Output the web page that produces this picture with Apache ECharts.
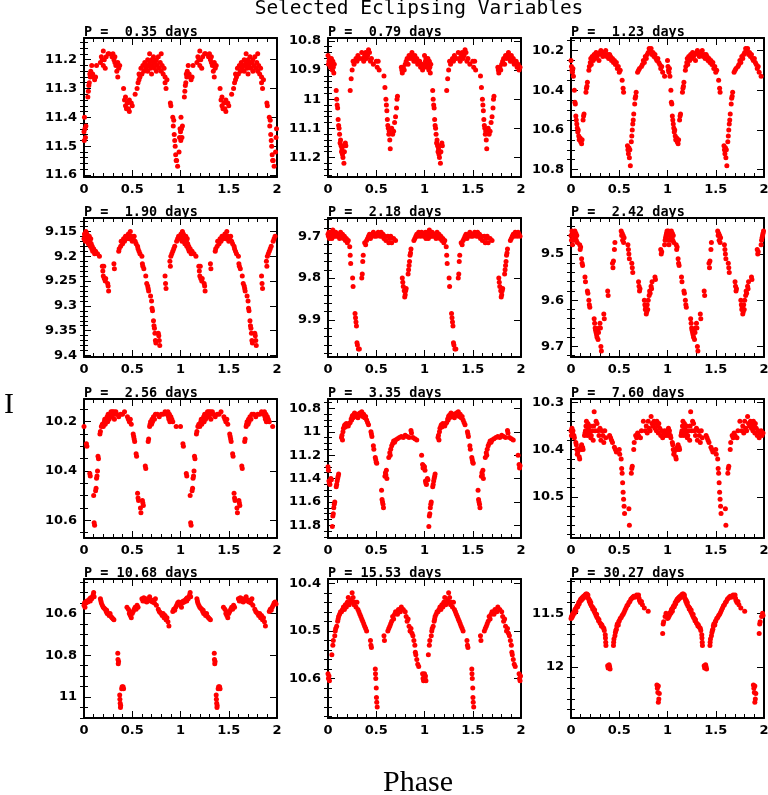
<!DOCTYPE html>
<html><head><meta charset="utf-8">
<script src="https://cdn.jsdelivr.net/npm/echarts@6/dist/echarts.min.js"></script>
<style>html,body{margin:0;padding:0;background:#fff}#c{width:768px;height:795px}</style>
</head><body><div id="c"></div>
<script>
// ---------- DATA (phase 0-1, magnitude I); plotted twice (phase and phase+1) ----------
const periodLabels = ['P =  0.35 days','P =  0.79 days','P =  1.23 days','P =  1.90 days','P =  2.18 days','P =  2.42 days',
                      'P =  2.56 days','P =  3.35 days','P =  7.60 days','P = 10.68 days','P = 15.53 days','P = 30.27 days'];

const lc035 = [[0.0,11.45],[0.003,11.48],[0.005,11.40],[0.01,11.44],[0.015,11.47],[0.02,11.43],
[0.04,11.33],[0.045,11.31],[0.05,11.29],[0.055,11.28],[0.06,11.25],[0.065,11.26],[0.07,11.24],[0.08,11.22],[0.09,11.25],[0.1,11.26],[0.11,11.27],[0.12,11.26],[0.13,11.22],
[0.17,11.21],[0.18,11.19],[0.19,11.20],[0.2,11.22],[0.2,11.17],[0.21,11.20],[0.22,11.23],[0.23,11.19],[0.25,11.18],[0.26,11.18],
[0.29,11.19],[0.3,11.18],[0.31,11.20],[0.32,11.21],[0.32,11.19],[0.33,11.22],[0.34,11.24],[0.35,11.21],[0.36,11.23],[0.35,11.26],[0.37,11.22],
[0.41,11.30],[0.42,11.34],[0.43,11.36],[0.43,11.33],[0.44,11.37],[0.45,11.35],[0.46,11.37],[0.47,11.34],[0.47,11.38],[0.49,11.35],[0.5,11.36],
[0.53,11.32],[0.55,11.30],[0.56,11.28],[0.57,11.27],[0.57,11.25],[0.58,11.26],[0.59,11.23],[0.6,11.25],[0.61,11.22],[0.62,11.24],[0.63,11.21],[0.64,11.23],[0.65,11.22],[0.66,11.20],[0.66,11.24],[0.67,11.22],[0.68,11.18],[0.68,11.21],[0.69,11.23],[0.7,11.20],[0.7,11.25],[0.71,11.22],[0.72,11.19],[0.72,11.21],[0.73,11.23],[0.74,11.21],[0.75,11.24],[0.75,11.20],[0.76,11.22],[0.77,11.19],[0.78,11.23],[0.79,11.21],[0.8,11.24],[0.8,11.18],[0.81,11.22],[0.82,11.25],[0.83,11.23],[0.84,11.26],[0.84,11.28],[0.85,11.30],[0.86,11.27],
[0.895,11.35],[0.9,11.36],[0.92,11.40],[0.925,11.43],[0.93,11.41],[0.935,11.46],[0.94,11.48],[0.945,11.50],[0.95,11.53],[0.955,11.55],[0.96,11.55],[0.97,11.57],[0.985,11.52],[0.99,11.47],[0.995,11.44]];

const lc079 = [[0.0,10.85],[0.005,10.88],[0.01,10.87],[0.015,10.86],[0.02,10.88],[0.025,10.89],[0.03,10.87],[0.035,10.86],[0.04,10.88],[0.045,10.90],[0.05,10.87],[0.055,10.89],[0.06,10.91],[0.065,10.88],
[0.085,10.97],[0.09,11.00],[0.095,11.02],[0.1,11.03],[0.105,11.07],[0.11,11.09],[0.115,11.10],[0.12,11.12],[0.125,11.15],[0.13,11.14],[0.135,11.16],[0.14,11.18],[0.145,11.17],[0.15,11.19],[0.155,11.20],[0.16,11.16],[0.165,11.22],[0.17,11.18],[0.18,11.15],[0.185,11.16],
[0.23,10.97],[0.24,10.93],[0.25,10.90],[0.26,10.87],[0.27,10.88],[0.29,10.86],[0.3,10.87],[0.31,10.85],[0.33,10.86],[0.35,10.84],[0.36,10.86],[0.37,10.87],[0.38,10.85],[0.39,10.84],[0.4,10.86],[0.41,10.85],[0.42,10.83],[0.43,10.84],[0.44,10.87],[0.45,10.86],[0.47,10.88],[0.5,10.87],[0.51,10.89],[0.52,10.87],[0.53,10.90],
[0.58,10.92],[0.59,10.96],[0.6,11.00],[0.605,11.02],[0.61,11.04],[0.615,11.07],[0.62,11.09],[0.625,11.10],[0.63,11.12],[0.635,11.11],[0.64,11.14],[0.645,11.17],[0.66,11.10],[0.67,11.12],[0.68,11.11],[0.69,11.08],[0.7,11.06],[0.71,11.03],[0.715,11.00],[0.72,10.99],
[0.76,10.89],[0.765,10.90],[0.77,10.91],[0.78,10.89],[0.79,10.90],[0.8,10.88],[0.81,10.87],[0.82,10.86],[0.83,10.88],[0.84,10.85],[0.85,10.86],[0.86,10.85],[0.87,10.84],[0.88,10.86],[0.89,10.87],[0.9,10.85],[0.91,10.87],[0.92,10.86],[0.93,10.88],[0.95,10.87],[0.96,10.89],[0.97,10.88],[0.98,10.90],[0.99,10.89]];

const lc123 = [[0.0,10.25],[0.005,10.28],[0.01,10.30],[0.015,10.31],[0.02,10.29],[0.025,10.33],
[0.035,10.40],[0.04,10.46],[0.045,10.47],[0.05,10.53],[0.055,10.55],[0.06,10.57],[0.065,10.59],[0.07,10.61],[0.075,10.60],[0.08,10.63],[0.085,10.65],[0.095,10.64],[0.1,10.66],[0.11,10.67],[0.115,10.65],[0.125,10.55],[0.13,10.53],[0.135,10.52],
[0.155,10.41],[0.16,10.39],[0.165,10.38],[0.17,10.36],
[0.185,10.30],[0.19,10.28],[0.2,10.26],[0.205,10.24],[0.21,10.27],[0.22,10.23],[0.23,10.25],[0.24,10.22],[0.25,10.24],[0.26,10.21],[0.27,10.23],[0.28,10.22],[0.29,10.25],[0.3,10.21],[0.31,10.20],[0.32,10.22],[0.33,10.23],[0.34,10.21],[0.35,10.22],[0.36,10.20],[0.37,10.23],[0.38,10.22],[0.39,10.24],[0.4,10.22],[0.41,10.23],[0.42,10.25],[0.43,10.24],[0.44,10.26],[0.45,10.25],[0.46,10.27],[0.47,10.26],[0.48,10.29],[0.49,10.28],[0.5,10.31],[0.51,10.30],
[0.53,10.35],[0.54,10.39],[0.545,10.41],
[0.585,10.68],[0.59,10.70],[0.595,10.72],[0.6,10.69],[0.605,10.74],[0.61,10.70],[0.615,10.78],[0.625,10.66],[0.63,10.63],[0.635,10.60],[0.64,10.57],[0.645,10.55],[0.65,10.52],[0.66,10.47],[0.665,10.44],[0.67,10.43],[0.675,10.41],
[0.69,10.31],[0.7,10.30],[0.71,10.29],[0.73,10.28],[0.74,10.27],[0.75,10.25],[0.76,10.26],[0.77,10.23],[0.78,10.24],[0.79,10.22],[0.8,10.21],[0.81,10.19],[0.82,10.20],[0.83,10.19],[0.84,10.22],[0.85,10.21],[0.86,10.23],[0.87,10.22],[0.88,10.24],[0.89,10.25],[0.9,10.24],[0.91,10.26],[0.92,10.27],[0.93,10.29],[0.94,10.28],[0.95,10.31],[0.97,10.33]];

const lc190 = [[0.0,9.165],[0.005,9.155],[0.01,9.16],[0.015,9.17],[0.02,9.15],[0.025,9.165],[0.03,9.155],[0.035,9.17],[0.04,9.16],[0.045,9.175],[0.05,9.165],[0.055,9.16],[0.06,9.17],[0.065,9.18],[0.07,9.165],[0.075,9.175],[0.08,9.185],[0.085,9.18],[0.09,9.19],[0.1,9.185],[0.11,9.195],[0.12,9.19],[0.14,9.195],[0.16,9.2],
[0.19,9.22],[0.195,9.23],[0.2,9.24],[0.205,9.22],[0.21,9.245],[0.22,9.25],[0.225,9.245],[0.245,9.255],[0.25,9.26],[0.255,9.27],
[0.31,9.215],[0.315,9.225],
[0.36,9.19],[0.365,9.185],[0.38,9.18],[0.385,9.17],[0.4,9.175],[0.41,9.165],[0.42,9.17],[0.43,9.16],[0.44,9.165],[0.45,9.16],[0.46,9.155],[0.47,9.165],[0.48,9.15],[0.49,9.16],[0.5,9.17],[0.51,9.165],[0.52,9.16],[0.53,9.17],[0.54,9.175],
[0.555,9.18],[0.56,9.185],[0.57,9.19],[0.58,9.195],[0.6,9.2],[0.605,9.215],[0.61,9.22],[0.62,9.225],
[0.64,9.24],[0.65,9.255],[0.66,9.26],[0.665,9.265],[0.67,9.27],
[0.69,9.28],[0.7,9.29],[0.705,9.305],[0.71,9.31],
[0.72,9.33],[0.725,9.34],[0.73,9.345],[0.735,9.355],[0.74,9.37],[0.745,9.375],
[0.77,9.355],[0.775,9.36],[0.78,9.37],[0.785,9.38],
[0.84,9.24],[0.845,9.255],[0.85,9.265],
[0.89,9.21],[0.895,9.22],[0.9,9.2],[0.91,9.195],[0.92,9.19],[0.93,9.185],[0.94,9.18],[0.96,9.17],[0.97,9.165],[0.98,9.16]];

const lc218 = [[0.0,9.695],[0.005,9.7],[0.01,9.69],[0.015,9.705],[0.02,9.7],[0.025,9.695],[0.03,9.7],[0.035,9.69],[0.04,9.705],[0.045,9.695],[0.05,9.685],[0.055,9.7],[0.06,9.695],[0.07,9.7],[0.08,9.69],[0.09,9.7],[0.1,9.695],[0.11,9.7],[0.12,9.705],[0.13,9.69],[0.14,9.7],[0.15,9.695],[0.16,9.705],[0.17,9.7],[0.18,9.71],[0.19,9.705],[0.2,9.715],[0.21,9.71],
[0.225,9.725],[0.23,9.745],[0.235,9.765],[0.255,9.8],[0.26,9.82],[0.28,9.885],[0.285,9.895],[0.29,9.905],[0.295,9.915],[0.3,9.955],[0.305,9.96],[0.315,9.97],[0.325,9.97],
[0.35,9.8],[0.355,9.79],[0.36,9.76],[0.365,9.745],
[0.38,9.715],[0.39,9.72],[0.4,9.71],[0.41,9.705],[0.42,9.7],[0.43,9.695],[0.44,9.705],[0.45,9.7],[0.46,9.695],[0.47,9.69],[0.48,9.7],[0.49,9.695],[0.5,9.7],[0.52,9.69],[0.53,9.695],[0.54,9.7],[0.55,9.69],[0.56,9.7],[0.57,9.695],[0.58,9.705],[0.59,9.7],[0.6,9.71],[0.62,9.7],[0.63,9.715],[0.64,9.705],[0.65,9.7],[0.66,9.715],[0.68,9.705],[0.7,9.71],
[0.77,9.8],[0.775,9.81],[0.78,9.82],[0.79,9.83],[0.795,9.845],[0.8,9.84],[0.805,9.83],[0.81,9.825],
[0.83,9.79],[0.835,9.78],[0.84,9.77],[0.845,9.76],[0.85,9.745],[0.855,9.74],[0.86,9.73],
[0.89,9.71],[0.9,9.705],[0.91,9.7],[0.92,9.695],[0.93,9.7],[0.94,9.69],[0.95,9.695],[0.96,9.7],[0.97,9.69],[0.98,9.695],[0.99,9.7]];

const lc242 = [[0.0,9.46],[0.005,9.47],[0.01,9.45],[0.015,9.48],[0.02,9.46],[0.025,9.455],[0.03,9.47],[0.035,9.46],[0.04,9.45],[0.045,9.465],[0.05,9.455],[0.055,9.47],[0.06,9.46],[0.065,9.475],
[0.09,9.48],[0.095,9.49],[0.1,9.485],[0.11,9.51],[0.115,9.52],[0.12,9.525],[0.145,9.55],[0.15,9.56],[0.17,9.58],[0.175,9.585],[0.185,9.6],[0.19,9.61],[0.195,9.615],
[0.24,9.64],[0.245,9.65],[0.25,9.66],[0.255,9.665],[0.26,9.67],[0.265,9.675],[0.27,9.68],[0.275,9.665],[0.28,9.685],[0.285,9.67],[0.29,9.66],[0.3,9.65],[0.305,9.66],[0.31,9.7],[0.315,9.71],
[0.34,9.63],[0.345,9.64],[0.38,9.58],[0.385,9.59],
[0.43,9.52],[0.435,9.53],[0.44,9.515],[0.45,9.49],[0.455,9.475],
[0.52,9.45],[0.525,9.46],[0.53,9.455],[0.535,9.47],[0.54,9.46],[0.545,9.475],[0.55,9.465],
[0.59,9.48],[0.595,9.49],[0.6,9.5],[0.605,9.51],[0.63,9.52],[0.635,9.53],[0.64,9.54],
[0.7,9.56],[0.705,9.57],[0.71,9.58],[0.715,9.575],
[0.76,9.6],[0.765,9.61],[0.77,9.62],[0.775,9.615],[0.78,9.63],[0.785,9.625],[0.79,9.61],[0.795,9.62],
[0.8,9.6],[0.81,9.59],[0.815,9.58],[0.82,9.585],[0.83,9.57],[0.835,9.575],[0.84,9.56],
[0.87,9.55],[0.875,9.555],[0.93,9.49],[0.935,9.5],[0.94,9.495],
[0.97,9.48],[0.975,9.47],[0.98,9.465],[0.985,9.46],[0.99,9.455],[0.995,9.45]];

const lc256 = [[0.0,10.22],[0.025,10.29],[0.03,10.3],[0.06,10.41],[0.065,10.42],
[0.1,10.5],[0.105,10.61],[0.11,10.62],[0.12,10.48],[0.125,10.47],[0.13,10.43],[0.135,10.42],[0.14,10.4],[0.145,10.34],[0.15,10.35],
[0.165,10.25],[0.17,10.24],[0.18,10.22],
[0.19,10.21],[0.2,10.22],[0.21,10.2],[0.215,10.19],[0.22,10.21],[0.23,10.19],[0.24,10.18],[0.245,10.2],[0.25,10.17],[0.26,10.19],[0.265,10.18],[0.27,10.17],[0.275,10.18],[0.28,10.16],[0.285,10.17],[0.29,10.18],[0.295,10.16],[0.3,10.17],[0.31,10.16],[0.315,10.19],[0.32,10.17],[0.33,10.16],[0.34,10.17],[0.36,10.18],[0.38,10.17],[0.4,10.17],[0.42,10.16],
[0.45,10.18],[0.46,10.19],[0.47,10.2],[0.48,10.19],[0.49,10.21],
[0.51,10.25],[0.515,10.26],[0.52,10.27],[0.525,10.28],[0.54,10.33],[0.545,10.34],
[0.555,10.49],[0.56,10.51],[0.565,10.52],[0.585,10.55],[0.59,10.57],[0.605,10.52],[0.61,10.53],[0.615,10.54],
[0.635,10.38],[0.64,10.39],[0.665,10.28],[0.67,10.27],
[0.68,10.22],[0.685,10.21],[0.69,10.2],[0.7,10.21],[0.705,10.19],[0.71,10.2],[0.72,10.18],[0.73,10.19],[0.74,10.17],[0.76,10.17],[0.78,10.18],[0.8,10.17],[0.82,10.17],[0.84,10.16],[0.86,10.17],[0.87,10.16],[0.875,10.18],[0.88,10.19],[0.885,10.17],[0.89,10.2],[0.9,10.18],[0.91,10.19],[0.92,10.2],
[0.955,10.22]];

const lc335 = [[0.0,11.3],[0.005,11.33],[0.01,11.42],[0.015,11.44],[0.02,11.45],[0.03,11.4],[0.035,11.41],
[0.045,11.81],[0.05,11.72],[0.055,11.7],[0.06,11.65],[0.065,11.62],[0.07,11.6],
[0.085,11.47],[0.09,11.45],[0.095,11.42],[0.1,11.4],[0.105,11.38],[0.11,11.36],
[0.14,11.05],[0.145,11.03],[0.15,11.07],[0.155,11.0],
[0.16,10.97],[0.17,10.95],[0.175,10.94],[0.18,10.96],[0.19,10.93],[0.2,10.94],[0.21,10.95],[0.22,10.93],[0.23,10.92],[0.24,10.89],[0.245,10.9],[0.25,10.87],[0.255,10.86],[0.26,10.88],[0.27,10.85],[0.275,10.84],[0.28,10.87],[0.29,10.86],[0.3,10.85],[0.31,10.88],[0.32,10.86],[0.33,10.84],[0.34,10.85],[0.35,10.83],[0.355,10.86],[0.36,10.87],[0.37,10.85],[0.38,10.88],[0.39,10.87],
[0.4,10.9],[0.41,10.92],[0.42,10.94],[0.445,11.0],[0.45,11.02],[0.455,11.04],[0.47,11.12],[0.475,11.15],
[0.49,11.22],[0.495,11.24],[0.5,11.26],[0.505,11.27],
[0.555,11.5],[0.56,11.58],[0.565,11.6],[0.57,11.62],[0.575,11.65],
[0.59,11.38],[0.595,11.35],[0.6,11.37],[0.605,11.33],[0.61,11.4],
[0.63,11.22],[0.64,11.18],[0.645,11.2],[0.65,11.15],[0.66,11.12],[0.67,11.1],[0.68,11.08],[0.69,11.09],[0.7,11.07],[0.72,11.06],[0.74,11.05],[0.76,11.04],[0.78,11.05],[0.8,11.03],[0.82,11.04],[0.84,11.05],[0.86,10.99],[0.865,11.01],[0.88,11.05],[0.9,11.06],[0.92,11.07],
[0.97,11.2],[0.98,11.28],[0.985,11.31],[0.99,11.29]];

const lc760 = [[0.0,10.36],[0.005,10.37],[0.01,10.355],[0.015,10.365],[0.02,10.36],[0.03,10.37],[0.035,10.375],
[0.05,10.385],[0.055,10.39],[0.06,10.4],[0.065,10.41],[0.07,10.405],[0.08,10.4],[0.085,10.415],[0.09,10.42],[0.1,10.395],[0.105,10.4],[0.11,10.39],[0.12,10.395],[0.125,10.4],
[0.14,10.37],[0.145,10.365],[0.15,10.36],[0.155,10.35],[0.16,10.34],[0.165,10.36],[0.17,10.37],[0.175,10.345],[0.18,10.355],[0.185,10.36],[0.19,10.365],[0.2,10.35],[0.205,10.375],[0.21,10.37],[0.22,10.36],[0.23,10.38],[0.235,10.35],[0.24,10.32],[0.25,10.36],[0.26,10.34],[0.27,10.345],[0.28,10.36],[0.29,10.37],[0.3,10.355],[0.31,10.38],[0.32,10.36],[0.33,10.37],[0.34,10.385],[0.35,10.36],[0.36,10.375],
[0.4,10.37],[0.41,10.375],[0.42,10.38],[0.43,10.385],[0.45,10.395],[0.46,10.4],[0.47,10.405],
[0.5,10.4],[0.505,10.41],[0.52,10.42],[0.525,10.44],[0.53,10.45],[0.535,10.47],[0.54,10.49],[0.545,10.505],[0.55,10.52],[0.555,10.535],[0.6,10.525],[0.605,10.56],
[0.625,10.45],[0.63,10.44],[0.635,10.435],[0.65,10.4],[0.655,10.385],
[0.67,10.37],[0.68,10.375],[0.69,10.365],[0.7,10.37],[0.72,10.375],[0.73,10.36],[0.75,10.34],[0.77,10.36],[0.78,10.35],[0.79,10.365],[0.8,10.34],[0.81,10.355],[0.82,10.36],[0.83,10.33],[0.84,10.345],[0.85,10.35],[0.86,10.34],[0.87,10.355],[0.88,10.345],[0.885,10.36],[0.89,10.34],[0.9,10.35],[0.905,10.365],[0.91,10.345],[0.92,10.355],[0.93,10.37],[0.94,10.36],[0.95,10.375],[0.96,10.365],[0.97,10.36],[0.98,10.37],[0.99,10.365]];

const lc1068 = [[0.0,10.56],[0.005,10.55],[0.01,10.57],[0.015,10.545],[0.02,10.55],[0.03,10.54],[0.04,10.545],[0.05,10.535],[0.06,10.53],[0.065,10.54],[0.07,10.525],[0.08,10.53],[0.09,10.52],[0.095,10.51],[0.1,10.5],[0.105,10.52],
[0.17,10.53],[0.175,10.54],[0.18,10.55],[0.19,10.56],[0.2,10.57],[0.21,10.575],[0.22,10.58],[0.23,10.59],[0.235,10.585],[0.24,10.6],[0.25,10.6],[0.26,10.61],[0.27,10.6],[0.28,10.615],[0.29,10.62],[0.3,10.625],[0.31,10.63],
[0.35,10.79],[0.352,10.82],[0.355,10.84],[0.358,10.83],
[0.37,10.99],[0.372,11.01],[0.375,11.03],[0.378,11.05],[0.38,11.04],[0.39,10.96],[0.395,10.95],[0.405,10.95],[0.41,10.96],
[0.445,10.57],[0.46,10.58],[0.47,10.6],[0.475,10.59],[0.48,10.61],[0.49,10.62],[0.5,10.6],[0.51,10.59],[0.52,10.58],[0.53,10.57],[0.54,10.58],[0.55,10.56],[0.56,10.57],
[0.6,10.53],[0.61,10.54],[0.62,10.525],[0.63,10.54],[0.64,10.53],[0.65,10.545],[0.66,10.535],[0.67,10.53],[0.68,10.52],[0.69,10.54],[0.7,10.535],[0.71,10.545],[0.72,10.54],[0.73,10.55],[0.74,10.53],[0.75,10.56],
[0.77,10.58],[0.78,10.59],[0.79,10.595],[0.8,10.6],[0.81,10.61],[0.82,10.6],[0.83,10.62],[0.84,10.61],[0.85,10.63],[0.86,10.62],[0.87,10.64],[0.88,10.66],
[0.92,10.59],[0.93,10.58],[0.94,10.585],[0.95,10.57],[0.96,10.56],[0.97,10.55],[0.98,10.545],[0.99,10.555]];

const lc1553 = [[0.0,10.59],[0.005,10.6],[0.01,10.595],[0.015,10.605],
[0.04,10.55],[0.05,10.53],[0.055,10.52],
[0.07,10.51],[0.075,10.5],[0.08,10.495],[0.09,10.49],[0.1,10.48],[0.105,10.475],[0.11,10.47],[0.12,10.465],[0.13,10.46],[0.14,10.46],[0.15,10.455],[0.16,10.45],[0.17,10.455],[0.18,10.445],[0.19,10.45],[0.2,10.44],[0.21,10.43],[0.22,10.445],[0.23,10.44],[0.24,10.435],[0.25,10.42],[0.255,10.44],[0.26,10.43],[0.27,10.445],[0.28,10.44],[0.29,10.45],[0.3,10.44],[0.31,10.455],[0.32,10.46],[0.33,10.465],[0.34,10.47],[0.35,10.475],[0.36,10.48],[0.37,10.485],[0.38,10.49],[0.39,10.495],[0.4,10.5],
[0.44,10.52],[0.445,10.53],[0.45,10.535],
[0.49,10.58],[0.492,10.59],[0.495,10.6],[0.5,10.62],[0.502,10.64],[0.505,10.65],[0.51,10.66],
[0.58,10.51],[0.585,10.52],
[0.62,10.5],[0.63,10.495],[0.64,10.49],[0.65,10.485],[0.66,10.48],[0.67,10.47],[0.68,10.475],[0.69,10.465],[0.7,10.46],[0.72,10.465],[0.73,10.455],[0.75,10.46],[0.76,10.45],[0.78,10.455],[0.8,10.46],[0.81,10.47],[0.82,10.48],[0.83,10.475],[0.84,10.49],[0.85,10.5],[0.86,10.495],[0.87,10.505],[0.88,10.51],[0.89,10.52],[0.9,10.53],[0.905,10.545],[0.91,10.55],[0.92,10.56],[0.93,10.57],[0.94,10.575],
[0.98,10.59],[0.985,10.6],[0.99,10.605],[0.995,10.595]];

const lc3027 = [[0.0,11.55],[0.005,11.53],[0.01,11.54],[0.015,11.51],[0.02,11.52],[0.025,11.5],[0.03,11.49],[0.035,11.5],[0.04,11.47],[0.045,11.46],[0.05,11.48],[0.055,11.45],[0.06,11.44],[0.065,11.43],[0.07,11.44],[0.075,11.42],[0.08,11.4],[0.085,11.41],[0.09,11.39],[0.095,11.38],[0.1,11.37],[0.105,11.38],[0.11,11.36],[0.115,11.37],[0.12,11.35],[0.125,11.36],[0.13,11.34],[0.14,11.35],[0.145,11.33],[0.15,11.34],[0.155,11.32],[0.16,11.33],[0.165,11.32],[0.17,11.34],[0.175,11.33],
[0.18,11.36],[0.185,11.37],[0.19,11.39],[0.195,11.38],[0.2,11.41],[0.205,11.4],[0.21,11.43],[0.22,11.44],[0.225,11.46],[0.23,11.45],[0.24,11.48],[0.245,11.47],[0.25,11.5],[0.26,11.52],[0.265,11.51],[0.27,11.54],[0.28,11.55],[0.285,11.57],[0.29,11.56],[0.3,11.59],[0.31,11.6],[0.315,11.62],[0.32,11.61],[0.33,11.63],[0.34,11.64],[0.345,11.66],
[0.355,11.7],[0.357,11.73],[0.36,11.77],[0.362,11.8],
[0.38,11.99],[0.385,12.01],[0.395,11.98],[0.4,12.0],[0.405,12.02],
[0.44,11.8],[0.442,11.77],[0.445,11.74],
[0.455,11.71],[0.46,11.68],[0.465,11.66],[0.47,11.65],[0.475,11.62],[0.48,11.6],[0.49,11.61],[0.495,11.58],[0.5,11.57],[0.51,11.55],[0.52,11.54],[0.53,11.52],[0.54,11.51],[0.55,11.49],[0.56,11.47],[0.57,11.45],[0.58,11.43],[0.59,11.42],[0.6,11.4],[0.61,11.39],[0.62,11.37],[0.63,11.36],[0.64,11.35],[0.65,11.34],[0.66,11.35],[0.67,11.34],[0.68,11.33],[0.69,11.34],[0.7,11.33],[0.705,11.36],[0.71,11.38],[0.72,11.4],[0.73,11.39],[0.74,11.42],[0.76,11.45],[0.8,11.48],
[0.89,12.17],[0.895,12.2],[0.9,12.24],[0.905,12.18],[0.91,12.3],[0.905,12.33],[0.915,12.25],
[0.95,11.69],[0.955,11.6],[0.96,11.58],
[0.975,11.53],[0.985,11.5],[0.99,11.52]];

const curves = [lc035, lc079, lc123, lc190, lc218, lc242, lc256, lc335, lc760, lc1068, lc1553, lc3027];

// y-axis ranges (magnitude, inverted), major tick labels and minor tick steps
const yRanges = [[11.125,11.607],[10.79,11.267],[10.137,10.837],[9.123,9.403],[9.656,9.989],[9.422,9.723],
                 [10.108,10.672],[10.72,11.908],[10.293,10.587],[10.435,11.1],[10.391,10.683],[11.18,12.478]];
const yMajorTicks = [[11.2,11.3,11.4,11.5,11.6],[10.8,10.9,11,11.1,11.2],[10.2,10.4,10.6,10.8],[9.15,9.2,9.25,9.3,9.35,9.4],
                     [9.7,9.8,9.9],[9.5,9.6,9.7],[10.2,10.4,10.6],[10.8,11,11.2,11.4,11.6,11.8],[10.3,10.4,10.5],
                     [10.6,10.8,11],[10.4,10.5,10.6],[11.5,12]];
const yMinorSteps = [0.02,0.02,0.05,0.01,0.02,0.02,0.05,0.05,0.02,0.05,0.02,0.1];
const xTickLabels = [0, 0.5, 1, 1.5, 2];

// ---------- LAYOUT ----------
const colLeft = [84, 328, 571];
const rowTop = [38, 218, 399, 579];
const W = 193, H = 139;

function minorValues(range, step, majors) {
  const out = [];
  for (let k = Math.ceil(range[0] / step - 1e-9); k * step <= range[1] + 1e-9; k++) {
    const v = +(k * step).toFixed(6);
    if (!majors.some(m => Math.abs(m - v) < 1e-9)) out.push(v);
  }
  return out;
}

const grid = [], xAxis = [], yAxis = [], series = [], graphic = [];
const lineStyle = { color: '#000', width: 2 };
const tickStyle = { color: '#000', width: 1 };
const labStyle = { color: '#000', fontFamily: 'DejaVu Sans', fontWeight: 'bold', fontSize: 13 };

curves.forEach((curve, i) => {
  const r = Math.floor(i / 3), c = i % 3;
  grid.push({ left: colLeft[c], top: rowTop[r], width: W, height: H, outerBoundsMode: 'none', containLabel: false });
  const xBase = { gridIndex: i, type: 'value', min: 0, max: 2, interval: 0.5, splitLine: { show: false },
    axisLine: { show: true, onZero: false, lineStyle },
    axisTick: { show: true, inside: true, length: 7, lineStyle: tickStyle },
    minorTick: { show: true, splitNumber: 5, length: 4, lineStyle: tickStyle } };
  xAxis.push(Object.assign({}, xBase, { position: 'bottom',
    axisLabel: Object.assign({ show: true, margin: 6, customValues: xTickLabels, formatter: v => String(v) }, labStyle) }));
  xAxis.push(Object.assign({}, xBase, { position: 'top', axisLabel: { show: false } }));

  const rng = yRanges[i], majors = yMajorTicks[i];
  const minors = minorValues(rng, yMinorSteps[i], majors);
  const yBase = { gridIndex: i, type: 'value', inverse: true, min: rng[0], max: rng[1], splitLine: { show: false } };
  ['left', 'right'].forEach(pos => {
    yAxis.push(Object.assign({}, yBase, { position: pos,
      axisLine: { show: true, onZero: false, lineStyle },
      axisTick: { show: true, inside: true, length: 7, customValues: majors, lineStyle: tickStyle },
      axisLabel: pos === 'left'
        ? Object.assign({ show: true, margin: 7, customValues: majors, formatter: v => String(v) }, labStyle)
        : { show: false } }));
    yAxis.push(Object.assign({}, yBase, { position: pos,
      axisLine: { show: false },
      axisTick: { show: true, inside: true, length: 4, customValues: minors, lineStyle: tickStyle },
      axisLabel: { show: false } }));
  });

  const pts = curve.map(p => [p[0], p[1]]).concat(curve.map(p => [p[0] + 1, p[1]]));
  series.push({ type: 'scatter', xAxisIndex: 2 * i, yAxisIndex: 4 * i, data: pts,
    symbol: 'circle', symbolSize: 5, itemStyle: { color: '#ff0000', opacity: 1 }, silent: true });

  graphic.push({ type: 'text', x: colLeft[c], y: rowTop[r] + 1, silent: true,
    style: { text: periodLabels[i], fill: '#000', font: 'bold 13.5px "DejaVu Sans Mono"', textAlign: 'left', textVerticalAlign: 'bottom' } });
});

graphic.push({ type: 'text', x: 419, y: 9, silent: true,
  style: { text: 'Selected Eclipsing Variables', fill: '#000', font: '19.5px "DejaVu Sans Mono"', textAlign: 'center', textVerticalAlign: 'middle' } });
graphic.push({ type: 'text', x: 418, y: 783, silent: true,
  style: { text: 'Phase', fill: '#000', font: '30px "Liberation Serif"', textAlign: 'center', textVerticalAlign: 'middle' } });
graphic.push({ type: 'text', x: 9, y: 405, silent: true,
  style: { text: 'I', fill: '#000', font: '30px "Liberation Serif"', textAlign: 'center', textVerticalAlign: 'middle' } });

const chart = echarts.init(document.getElementById('c'), null, { renderer: 'canvas' });
chart.setOption({ animation: false, backgroundColor: '#fff', grid, xAxis, yAxis, series, graphic });
</script></body></html>
